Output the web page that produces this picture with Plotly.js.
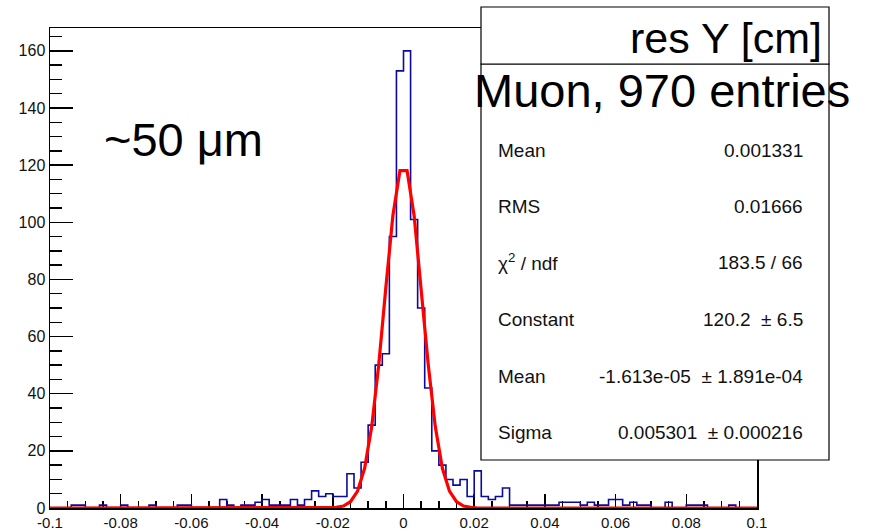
<!DOCTYPE html>
<html>
<head>
<meta charset="utf-8">
<script src="https://cdn.plot.ly/plotly-3.0.1.min.js"></script>
<style>
  html, body { margin: 0; padding: 0; background: #ffffff; }
  #chart { width: 869px; height: 531px; }
</style>
</head>
<body>
<div id="chart"></div>
<script>
// ---- data ----
// histogram "res Y [cm]": 100 bins from -0.1 to 0.1 (bin width 0.002)
const histRange = [-0.1, 0.1];
const counts = [
  0, 0, 0, 1, 1, 0, 0, 1, 0, 0,      // -0.100 .. -0.082
  1, 0, 0, 0, 1, 0, 0, 0, 1, 1,      // -0.080 .. -0.062
  0, 0, 0, 0, 3, 1, 0, 1, 1, 2,      // -0.060 .. -0.042
  3, 1, 1, 1, 3, 1, 3, 6, 4, 5,      // -0.040 .. -0.022
  4, 4, 12, 7, 16, 29, 50, 54, 95, 153, // -0.020 .. -0.002
  160, 101, 70, 42, 20, 15, 10, 8, 10, 4, // 0.000 .. 0.018
  13, 4, 3, 4, 7, 1, 1, 1, 1, 1,     // 0.020 .. 0.038
  1, 1, 2, 2, 2, 1, 2, 1, 1, 3,      // 0.040 .. 0.058
  3, 1, 2, 1, 1, 0, 0, 2, 0, 0,      // 0.060 .. 0.078
  1, 1, 1, 0, 0, 0, 1, 0, 0, 0       // 0.080 .. 0.098
];
// gaussian fit curve, values read at the bin centres (same 100 bins)
const fitValues = [
  0, 0, 0, 0, 0, 0, 0, 0, 0, 0,
  0, 0, 0, 0, 0, 0, 0, 0, 0, 0,
  0, 0, 0, 0, 0, 0, 0, 0, 0, 0,
  0, 0, 0, 0, 0, 0, 0, 0, 0, 0,
  0.2, 0.7, 2.2, 5.9, 13.9, 28.4, 50.2, 77.1, 102.4, 118.1,
  118.1, 102.4, 77.1, 50.2, 28.4, 13.9, 5.9, 2.2, 0.7, 0.2,
  0, 0, 0, 0, 0, 0, 0, 0, 0, 0,
  0, 0, 0, 0, 0, 0, 0, 0, 0, 0,
  0, 0, 0, 0, 0, 0, 0, 0, 0, 0,
  0, 0, 0, 0, 0, 0, 0, 0, 0, 0
];
const xTickVals = [-0.1, -0.08, -0.06, -0.04, -0.02, 0, 0.02, 0.04, 0.06, 0.08, 0.1];
const xTickText = ["-0.1", "-0.08", "-0.06", "-0.04", "-0.02", "0", "0.02", "0.04", "0.06", "0.08", "0.1"];
const histTitle = "res Y [cm]";
const subtitle = "Muon, 970 entries";
const note = "~50 \u03bcm";
const statLabels = ["Mean", "RMS", "\u03c7<sup>2</sup> / ndf", "Constant", "Mean", "Sigma"];
const statValues = ["0.001331", "0.01666", "183.5 / 66", "120.2  \u00b1 6.5",
                    "-1.613e-05  \u00b1 1.891e-04", "0.005301  \u00b1 0.000216"];
const yRange = [0, 168];

// ---- build traces ----
const nb = counts.length;
const bw = (histRange[1] - histRange[0]) / nb;
const centres = counts.map((_, i) => histRange[0] + (i + 0.5) * bw);

const histX = [histRange[0]].concat(centres, [histRange[1]]);
const histY = [counts[0]].concat(counts, [counts[nb - 1]]);
const fitX = [histRange[0]].concat(centres, [histRange[1]]);
const fitY = [fitValues[0]].concat(fitValues, [fitValues[nb - 1]]);

const traces = [
  { type: 'scatter', mode: 'lines', x: histX, y: histY,
    line: { shape: 'hvh', color: '#0a0a9e', width: 1.6 }, hoverinfo: 'skip' },
  { type: 'scatter', mode: 'lines', x: fitX, y: fitY,
    line: { shape: 'linear', color: '#ff0000', width: 3.2 }, hoverinfo: 'skip' }
];

// ---- layout (pixel helpers for the ROOT-style boxes) ----
const L = 50, R = 757, T = 28, B = 508;
const px = x => (x - L) / (R - L);
const py = y => (B - y) / (B - T);
const font = 'Liberation Sans, Arial, Helvetica, sans-serif';

const shapes = [
  { type: 'rect', xref: 'paper', yref: 'paper', layer: 'above',
    x0: px(481), x1: px(829), y0: py(460), y1: py(64),
    fillcolor: '#ffffff', line: { color: '#000000', width: 1.2 } },
  { type: 'rect', xref: 'paper', yref: 'paper', layer: 'above',
    x0: px(481), x1: px(829), y0: py(64), y1: py(7),
    fillcolor: '#ffffff', line: { color: '#000000', width: 1.2 } }
];

const annotations = [
  { xref: 'paper', yref: 'paper', x: px(102), y: py(140), xanchor: 'left', yanchor: 'middle',
    text: note, showarrow: false, font: { family: font, size: 47, color: '#000' } },
  { xref: 'paper', yref: 'paper', x: px(824), y: py(38), xanchor: 'right', yanchor: 'middle',
    text: histTitle, showarrow: false, font: { family: font, size: 43, color: '#000' } },
  { xref: 'paper', yref: 'paper', x: px(662), y: py(91), xanchor: 'center', yanchor: 'middle',
    text: subtitle, showarrow: false, font: { family: font, size: 47, color: '#000' } }
];
const rowY = [150, 206, 262, 319, 376, 432];
statLabels.forEach((s, i) => {
  annotations.push({ xref: 'paper', yref: 'paper', x: px(496), y: py(rowY[i]),
    xanchor: 'left', yanchor: 'middle', text: s, showarrow: false,
    font: { family: font, size: 19, color: '#111' } });
  annotations.push({ xref: 'paper', yref: 'paper', x: px(805), y: py(rowY[i]),
    xanchor: 'right', yanchor: 'middle', text: statValues[i], showarrow: false,
    font: { family: font, size: 19, color: '#111' } });
});

const axisCommon = {
  showgrid: false, zeroline: false, showline: true, mirror: true,
  linecolor: '#000', linewidth: 1.5, ticks: 'inside', tickcolor: '#000', tickwidth: 1.5,
  layer: 'below traces'
};

const layout = {
  width: 869, height: 531,
  margin: { l: L, r: 869 - R, t: T, b: 531 - B, pad: 0 },
  paper_bgcolor: '#ffffff', plot_bgcolor: '#ffffff',
  showlegend: false,
  xaxis: Object.assign({}, axisCommon, {
    range: histRange, tickmode: 'array', tickvals: xTickVals, ticktext: xTickText, ticklen: 14,
    tickfont: { family: font, size: 15, color: '#111' },
    minor: { ticks: 'inside', dtick: 0.005, tick0: 0, ticklen: 7, tickcolor: '#000', tickwidth: 1.5, showgrid: false }
  }),
  yaxis: Object.assign({}, axisCommon, {
    range: yRange, tick0: 0, dtick: 20, ticklen: 23,
    tickfont: { family: font, size: 16, color: '#111' },
    minor: { ticks: 'inside', dtick: 5, ticklen: 12, tickcolor: '#000', tickwidth: 1.5, showgrid: false }
  }),
  shapes: shapes,
  annotations: annotations
};

Plotly.newPlot('chart', traces, layout, { staticPlot: true, displayModeBar: false });
</script>
</body>
</html>
